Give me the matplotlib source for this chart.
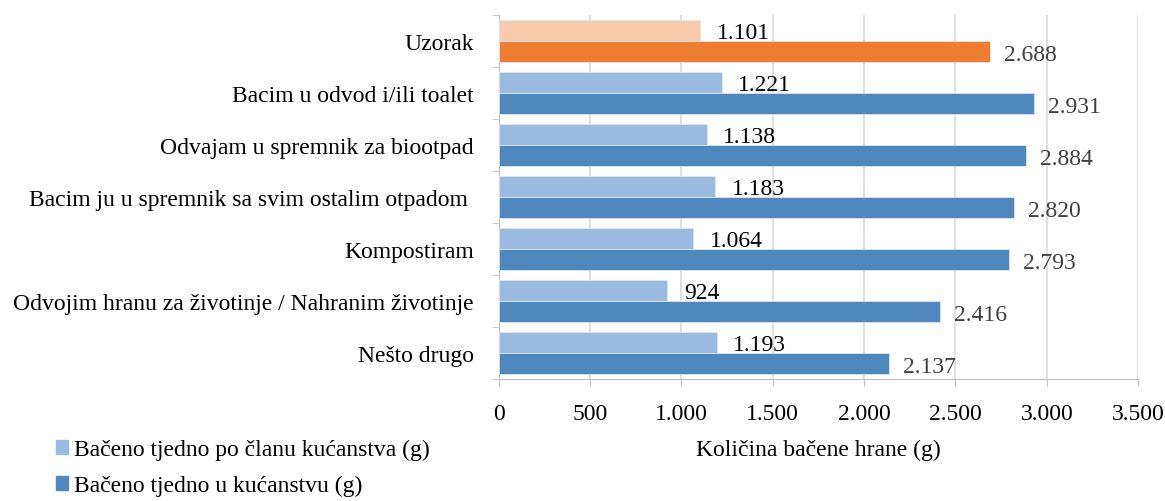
import matplotlib.pyplot as plt
import matplotlib.patches as mpatches
import numpy as np

plt.rcParams['font.family'] = ['Liberation Serif', 'DejaVu Serif']

# podaci
kategorije = ['Uzorak', 'Bacim u odvod i/ili toalet', 'Odvajam u spremnik za biootpad',
              'Bacim ju u spremnik sa svim ostalim otpadom ', 'Kompostiram',
              'Odvojim hranu za životinje / Nahranim životinje', 'Nešto drugo']
po_clanu = [1101, 1221, 1138, 1183, 1064, 924, 1193]
u_kucanstvu = [2688, 2931, 2884, 2820, 2793, 2416, 2137]
x_ticks = [0, 500, 1000, 1500, 2000, 2500, 3000, 3500]

svijetla = ['#F8CBAD'] + ['#9ABBE0'] * 6
tamna = ['#ED7D31'] + ['#4F88BD'] * 6
FS = 17


def fmt(v):
    return '{:,}'.format(v).replace(',', '.')


fig = plt.figure(figsize=(11.65, 5.02), dpi=100, facecolor='white')
ax = fig.add_axes([0.428, 0.243, 0.549, 0.725])

y = np.arange(len(kategorije))
h = 0.4
ax.barh(y - 0.2, po_clanu, height=h, color=svijetla, edgecolor='#dce6f2', linewidth=0.6, zorder=3)
ax.barh(y + 0.2, u_kucanstvu, height=h, color=tamna, edgecolor='#dce6f2', linewidth=0.6, zorder=3)

for i in range(len(kategorije)):
    ax.annotate(fmt(po_clanu[i]), (po_clanu[i], y[i] - 0.2), xytext=(12, -1),
                textcoords='offset points', va='center', ha='left', fontsize=FS, color='black')
    ax.annotate(fmt(u_kucanstvu[i]), (u_kucanstvu[i], y[i] + 0.2), xytext=(10, -2),
                textcoords='offset points', va='center', ha='left', fontsize=FS, color='#404040')

ax.set_xlim(0, 3500)
ax.set_ylim(len(kategorije) - 0.5, -0.5)
ax.set_xticks(x_ticks)
ax.set_xticklabels([fmt(v) for v in x_ticks], fontsize=FS)
ax.set_yticks(y)
ax.set_yticklabels(kategorije, fontsize=FS)
ax.set_yticks(np.arange(-0.5, len(kategorije)), minor=True)
ax.tick_params(axis='y', which='major', length=0, pad=18)
ax.tick_params(axis='y', which='minor', length=5, color='#bfbfbf')
ax.tick_params(axis='x', length=5, color='#bfbfbf', pad=12)
ax.grid(axis='x', color='#d9d9d9', linewidth=1.2, zorder=0)
for s in ['top', 'right']:
    ax.spines[s].set_visible(False)
ax.spines['left'].set_color('#bfbfbf')
ax.spines['bottom'].set_color('#bfbfbf')
ax.set_xlabel('Količina bačene hrane (g)', fontsize=FS, labelpad=11)

handles = [mpatches.Patch(color='#9ABBE0', label='Bačeno tjedno po članu kućanstva (g)'),
           mpatches.Patch(color='#4F88BD', label='Bačeno tjedno u kućanstvu (g)')]
fig.legend(handles=handles, loc='upper left', bbox_to_anchor=(0.04, 0.142), frameon=False,
           fontsize=FS, handlelength=0.5, handleheight=0.5, handletextpad=0.25,
           labelspacing=0.62, borderaxespad=0)

fig.savefig('out.png', dpi=100)
